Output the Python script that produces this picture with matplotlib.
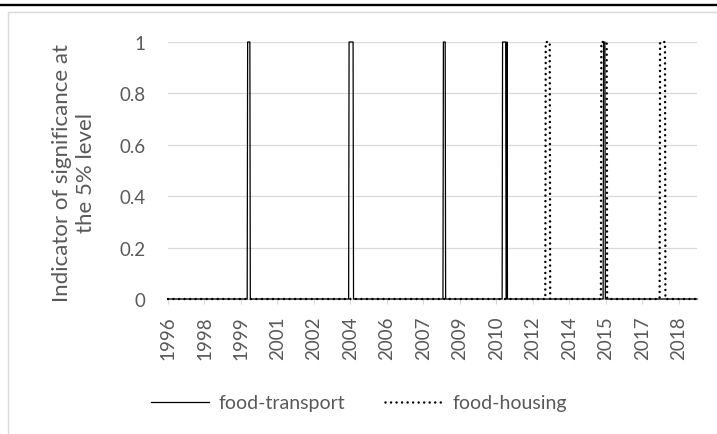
import numpy as np
import matplotlib
matplotlib.use('Agg')
import matplotlib.pyplot as plt
from matplotlib.lines import Line2D
from matplotlib.patches import Rectangle

# ---- data (weekly observations, index 0 = start of 1996) ----
n_weeks = 1190
tick_step = 82
tick_labels = ['1996', '1998', '1999', '2001', '2002', '2004', '2006', '2007',
               '2009', '2010', '2012', '2014', '2015', '2017', '2018']
# periods (start week, end week exclusive) where indicator == 1
transport_periods = [(179, 185), (407, 417), (619, 624), (752, 760), (762, 763), (979, 983)]
housing_periods = [(849, 859), (974, 987), (1106, 1118)]
yticks = [0, 0.2, 0.4, 0.6, 0.8, 1]
ytick_labels = ['0', '0.2', '0.4', '0.6', '0.8', '1']
series_names = ['food-transport', 'food-housing']

x = np.arange(n_weeks)
transport = np.zeros(n_weeks)
for a, b in transport_periods:
    transport[a:b] = 1
housing = np.zeros(n_weeks)
for a, b in housing_periods:
    housing[a:b] = 1

plt.rcParams['font.family'] = ['Lato', 'DejaVu Sans']
grey = '#595959'

fig = plt.figure(figsize=(7.17, 4.35), dpi=100)
ax = fig.add_axes([168/717, 1-300/435, 529/717, 257/435])

ax.plot(x, transport, color='black', lw=0.9, clip_on=False, zorder=3, label=series_names[0])
ax.plot(x, housing, color='black', lw=1.8, linestyle=(0, (0.01, 2.2)),
        dash_capstyle='round', clip_on=False, zorder=4, label=series_names[1])

ax.set_xlim(0, n_weeks - 1)
ax.set_ylim(0, 1)
ax.set_xticks(x[::tick_step][:len(tick_labels)])
ax.set_xticklabels(tick_labels)
ax.set_yticks(yticks)
ax.set_yticklabels(ytick_labels)
ax.grid(axis='y', color='#d9d9d9', lw=0.9)
ax.set_axisbelow(True)
for s in ['top', 'right', 'left']:
    ax.spines[s].set_visible(False)
ax.spines['bottom'].set_color('#d9d9d9')
ax.tick_params(axis='y', length=0, pad=16, labelsize=13.5, labelcolor=grey)
ax.tick_params(axis='x', length=3.6, color='#d9d9d9', pad=8, labelsize=13.5,
               labelcolor=grey, labelrotation=90)

fig.text(74/717, 1-173/435, "Indicator of significance at\nthe 5% level", rotation=90,
         ha='center', va='center', multialignment='center', fontsize=16, color=grey,
         linespacing=1.2)

fig.legend(loc='center', bbox_to_anchor=(359/717, 1-404/435), ncol=2, frameon=False,
           fontsize=14, handlelength=3, handletextpad=0.5, columnspacing=2, labelcolor=grey)

fig.add_artist(Line2D([0, 1], [1-6/435]*2, color='black', lw=1.7, transform=fig.transFigure))
fig.add_artist(Rectangle((8/717, -0.1), 1.2, 1-13/435+0.1, transform=fig.transFigure,
                         fill=False, edgecolor='#d9d9d9', lw=1))

fig.savefig('out.png', dpi=100)
